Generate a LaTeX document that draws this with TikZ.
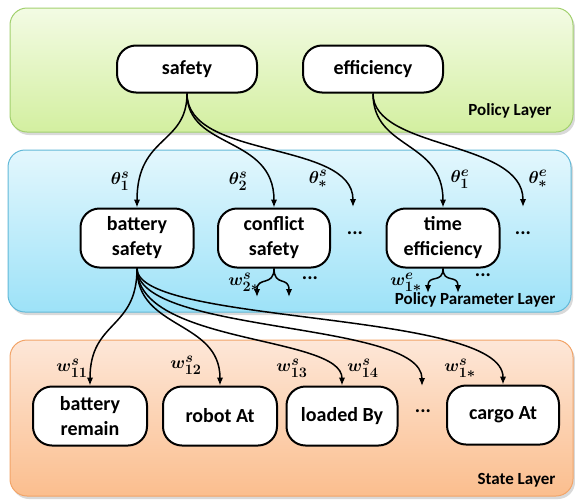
\documentclass[tikz,border=0pt]{standalone}
\usepackage{fontspec}
\setmainfont{Carlito}
\usepackage{amsmath,bm}
\usetikzlibrary{shadows,arrows.meta}

\definecolor{grnTop}{HTML}{F3FBE4}
\definecolor{grnBot}{HTML}{D3EFA0}
\definecolor{grnLine}{HTML}{A2D06E}
\definecolor{bluTop}{HTML}{E3F7FD}
\definecolor{bluBot}{HTML}{9DE2F8}
\definecolor{bluLine}{HTML}{62B9D8}
\definecolor{orgTop}{HTML}{FDE7D8}
\definecolor{orgBot}{HTML}{FBBE8E}
\definecolor{orgLine}{HTML}{F2A468}

\tikzset{
  layer/.style={rounded corners=17pt, line width=1pt,
    drop shadow={shadow xshift=2pt, shadow yshift=-3pt, opacity=0.3}},
  pnode/.style={draw, line width=2pt, fill=white, rounded corners=19pt,
    align=center, inner sep=0pt, font=\bfseries\fontsize{20}{25}\selectfont},
  layertext/.style={font=\bfseries\fontsize{17}{17}\selectfont, anchor=east},
  plabel/.style={font=\fontsize{19}{19}\selectfont, inner sep=1pt},
  dots/.style={font=\bfseries\fontsize{20}{20}\selectfont},
  link/.style={line width=1.5pt, -{Latex[length=8pt,width=6.5pt]}}
}

\begin{document}
\begin{tikzpicture}[x=1pt,y=-1pt]
\useasboundingbox (0,0) rectangle (575,501);

% layer backgrounds
\path[layer, draw=grnLine, top color=grnTop, bottom color=grnBot]
  (10,8) rectangle (573,132);
\path[layer, draw=bluLine, top color=bluTop, bottom color=bluBot]
  (8,150) rectangle (571,312);
\path[layer, draw=orgLine, top color=orgTop, bottom color=orgBot]
  (10,340) rectangle (573,496);

\node[layertext] (lpol) at (555,111) {Policy Layer};
\node[layertext] (lpar) at (559,300) {Policy Parameter Layer};
\node[layertext] (lsta) at (559,480) {State Layer};

% policy layer
\node[pnode, minimum width=140pt, minimum height=47pt] (safety) at (187,69) {safety};
\node[pnode, minimum width=140pt, minimum height=47pt] (effic) at (373,69) {efficiency};

% policy parameter layer
\node[pnode, minimum width=113pt, minimum height=59pt] (bsafe) at (137,238) {battery\\safety};
\node[pnode, minimum width=112pt, minimum height=59pt] (csafe) at (274,238) {conflict\\safety};
\node[pnode, minimum width=113pt, minimum height=59pt] (teff) at (443,238) {time\\efficiency};
\node[dots] (pd1) at (355,233) {...};
\node[dots] (pd2) at (523,233) {...};

% state layer
\node[pnode, minimum width=114pt, minimum height=59pt] (brem) at (90,416) {battery\\remain};
\node[pnode, minimum width=114pt, minimum height=59pt] (rat) at (220,416) {robot At};
\node[pnode, minimum width=111pt, minimum height=59pt] (lby) at (342,416) {loaded By};
\node[pnode, minimum width=112pt, minimum height=59pt] (cat) at (503,415) {cargo At};
\node[dots] (sd) at (423,411) {...};

% free ends of the open-ended arrows
\coordinate (es) at (353,207);
\coordinate (ee) at (523,207);
\coordinate (ed) at (422,386);
\coordinate (c1) at (257,297);
\coordinate (c2) at (289,297);
\coordinate (t1) at (428,293);
\coordinate (t2) at (458,293);

% policy -> parameter links
\draw[link] (safety.south) .. controls (187,145) and (137,135) .. (bsafe.north);
\draw[link] (safety.south) .. controls (187,150) and (274,135) .. (csafe.north);
\draw[link] (safety.south) .. controls (187,160) and (353,140) .. (es);
\draw[link] (effic.south) .. controls (373,150) and (443,140) .. (teff.north);
\draw[link] (effic.south) .. controls (373,150) and (523,140) .. (ee);

% short links below parameter nodes
\draw[link] (csafe.south) .. controls (274,287) and (257,276) .. (c1);
\draw[link] (csafe.south) .. controls (274,287) and (289,276) .. (c2);
\draw[link] (teff.south) .. controls (443,284) and (428,274) .. (t1);
\draw[link] (teff.south) .. controls (443,284) and (458,274) .. (t2);

% parameter -> state links
\draw[link] (bsafe.south) .. controls (137,330) and (90,320) .. (brem.north);
\draw[link] (bsafe.south) .. controls (137,330) and (220,320) .. (rat.north);
\draw[link] (bsafe.south) .. controls (137,345) and (342,335) .. (lby.north);
\draw[link] (bsafe.south) .. controls (137,335) and (422,320) .. (ed);
\draw[link] (bsafe.south) .. controls (137,325) and (503,310) .. (cat.north);

% parameter labels
\node[plabel] (th1) at (120,181) {$\bm{\theta^{s}_{1}}$};
\node[plabel] (th2) at (238,181) {$\bm{\theta^{s}_{2}}$};
\node[plabel] (ths) at (318,179) {$\bm{\theta^{s}_{*}}$};
\node[plabel] (te1) at (460,179) {$\bm{\theta^{e}_{1}}$};
\node[plabel] (tes) at (538,179) {$\bm{\theta^{e}_{*}}$};
\node[plabel] (w2s) at (244,282) {$\bm{w^{s}_{2*}}$};
\node[dots] (cd) at (310,278) {...};
\node[plabel] (w1e) at (406,282) {$\bm{w^{e}_{1*}}$};
\node[dots] (td) at (483,275) {...};

\node[plabel] (w11) at (72,368) {$\bm{w^{s}_{11}}$};
\node[plabel] (w12) at (186,365) {$\bm{w^{s}_{12}}$};
\node[plabel] (w13) at (292,368) {$\bm{w^{s}_{13}}$};
\node[plabel] (w14) at (363,368) {$\bm{w^{s}_{14}}$};
\node[plabel] (w1s) at (460,368) {$\bm{w^{s}_{1*}}$};
\end{tikzpicture}
\end{document}
